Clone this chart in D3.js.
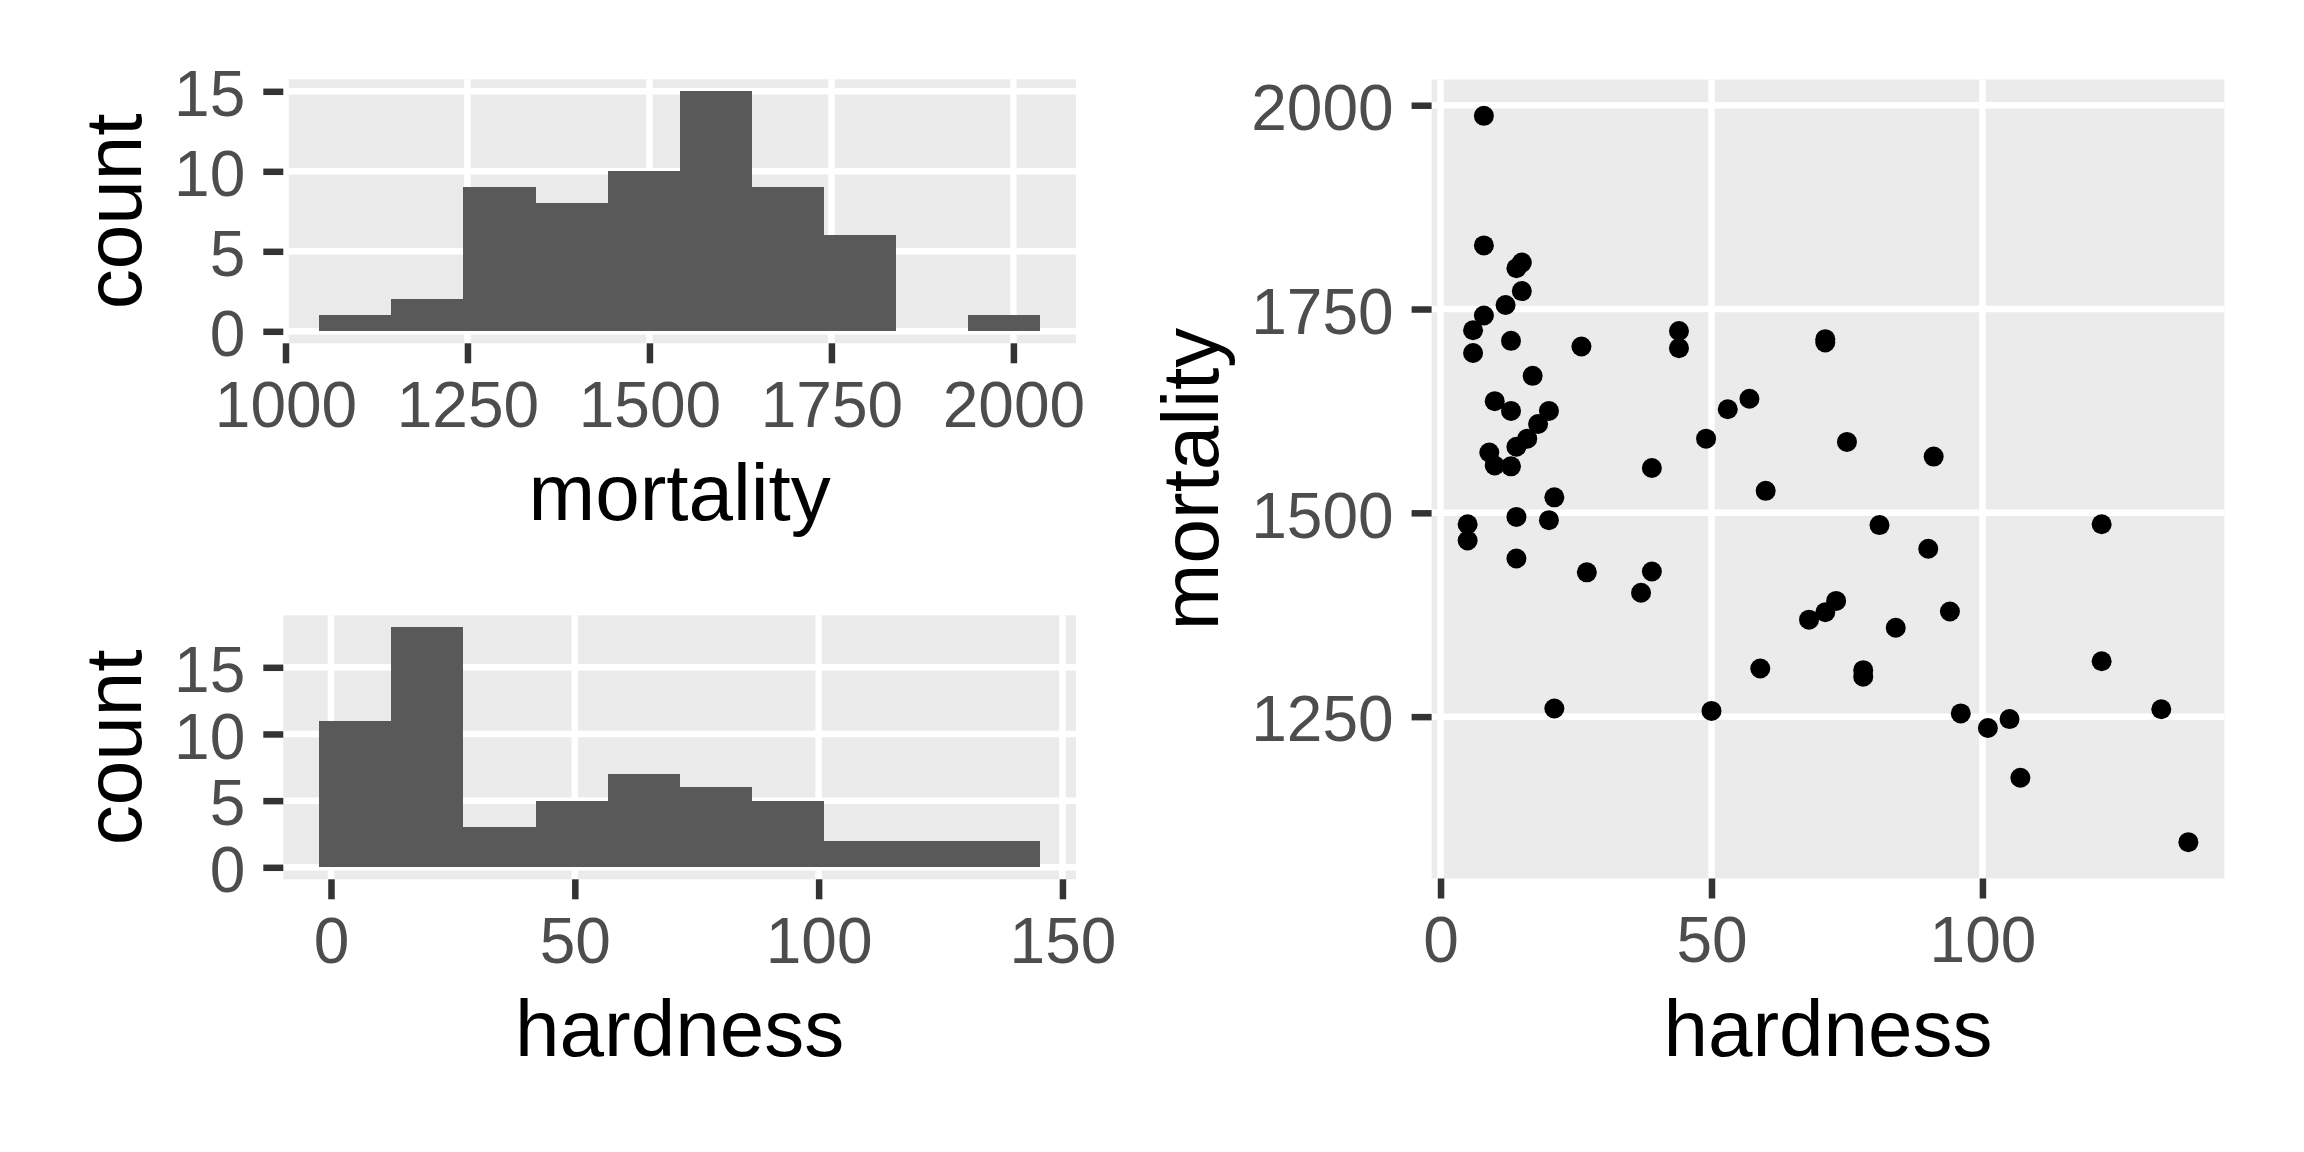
<!doctype html>
<html lang="en">
<head>
	<meta charset="UTF-8">
	<title>water: mortality and hardness</title>
	<style>
		body {
			margin: 0;
			background: #fff;
		}

		svg text {
			font-family: "Liberation Sans", Arial, sans-serif;
		}

		.tick text {
			fill: #4d4d4d;
			font-size: 64px;
		}

		.tick line {
			stroke: #333;
			stroke-width: 6.5px;
		}

		.axis__title {
			fill: #000;
			font-size: 80px;
			text-anchor: middle;
		}

		.bar {
			shape-rendering: crispEdges;
		}
	</style>
</head>
<body>
	<script src="https://cdn.jsdelivr.net/npm/d3@7"></script>
	<script>
		// water data: hardness and mortality for 61 towns
		var hardness = [105, 17, 5, 14, 18, 10, 15, 78, 10, 84, 73, 12, 21, 78, 96, 20, 39, 39, 122, 21,
			44, 94, 8, 9, 91, 138, 16, 37, 15, 8, 26, 44, 14, 59, 133, 27, 6, 107, 5, 90,
			6, 101, 13, 14, 49, 8, 14, 68, 50, 75, 71, 13, 57, 71, 13, 20, 60, 53, 122, 81, 71];
		var mortality = [1247, 1668, 1466, 1800, 1609, 1558, 1807, 1299, 1637, 1359, 1392, 1755, 1519, 1307, 1254, 1491, 1555, 1428, 1318, 1260,
			1723, 1379, 1742, 1574, 1569, 1096, 1591, 1402, 1772, 1828, 1704, 1702, 1581, 1309, 1259, 1427, 1724, 1175, 1486, 1456,
			1696, 1236, 1711, 1444, 1591, 1987, 1495, 1369, 1257, 1587, 1713, 1557, 1640, 1709, 1625, 1625, 1527, 1627, 1486, 1485, 1378];

		// histogram bins (10 bins each)
		var mortalityBreaks = [1046.5, 1145.5, 1244.5, 1343.5, 1442.5, 1541.5, 1640.5, 1739.5, 1838.5, 1937.5, 2036.5];
		var mortalityCounts = [1, 2, 9, 8, 10, 15, 9, 6, 0, 1];
		var hardnessBreaks = [-2.39, 12.39, 27.17, 41.94, 56.72, 71.5, 86.28, 101.06, 115.83, 130.61, 145.39];
		var hardnessCounts = [11, 18, 3, 5, 7, 6, 5, 2, 2, 2];

		// tick labels
		var mortalityHistTicks = [1000, 1250, 1500, 1750, 2000];
		var hardnessHistTicks = [0, 50, 100, 150];
		var countTicks = [0, 5, 10, 15];
		var scatterXTicks = [0, 50, 100];
		var scatterYTicks = [1250, 1500, 1750, 2000];

		var w = 2304,
			h = 1152,
			tickLen = 20,
			tickPad = 18,
			gridWidth = 6.5;

		var svg = d3.select('body')
			.append('svg')
			.attr('width', w)
			.attr('height', h);


		/**
		* expand a [min, max] extent by 5% on each side like ggplot does
		* @param {array} ext
		* @returns {array}
		*/
		var expand = function(ext) {
			var pad = (ext[1] - ext[0]) * 0.05;
			return [ext[0] - pad, ext[1] + pad];
		};


		/**
		* draw one panel: background, grid, axes and titles; returns scales
		* @param {object} opt
		* @returns {object}
		*/
		var drawPanel = function(opt) {
			var x = d3.scaleLinear().domain(opt.xDomain).range([opt.left, opt.right]),
				y = d3.scaleLinear().domain(opt.yDomain).range([opt.bottom, opt.top]),
				g = svg.append('g');

			g.append('rect')
				.attr('x', opt.left)
				.attr('y', opt.top)
				.attr('width', opt.right - opt.left)
				.attr('height', opt.bottom - opt.top)
				.attr('fill', '#ebebeb');

			g.selectAll('.gx')
				.data(opt.xTicks)
				.enter()
				.append('line')
				.attr('x1', function(d) { return x(d); })
				.attr('x2', function(d) { return x(d); })
				.attr('y1', opt.top)
				.attr('y2', opt.bottom)
				.attr('stroke', '#fff')
				.attr('stroke-width', gridWidth);

			g.selectAll('.gy')
				.data(opt.yTicks)
				.enter()
				.append('line')
				.attr('x1', opt.left)
				.attr('x2', opt.right)
				.attr('y1', function(d) { return y(d); })
				.attr('y2', function(d) { return y(d); })
				.attr('stroke', '#fff')
				.attr('stroke-width', gridWidth);

			var xAxis = g.append('g')
				.attr('transform', 'translate(0,' + opt.bottom + ')')
				.call(d3.axisBottom(x).tickValues(opt.xTicks).tickSize(tickLen).tickPadding(tickPad).tickFormat(d3.format('d')));
			xAxis.select('.domain').remove();

			var yAxis = g.append('g')
				.attr('transform', 'translate(' + opt.left + ',0)')
				.call(d3.axisLeft(y).tickValues(opt.yTicks).tickSize(tickLen).tickPadding(tickPad).tickFormat(d3.format('d')));
			yAxis.select('.domain').remove();
			yAxis.selectAll('text').attr('dy', '0.38em');

			g.append('text')
				.attr('class', 'axis__title')
				.attr('x', (opt.left + opt.right) / 2)
				.attr('y', opt.bottom + 177)
				.text(opt.xTitle);

			// y title sits 33px left of the widest tick label
			var labelsLeft = yAxis.node().getBBox().x + opt.left;
			g.append('text')
				.attr('class', 'axis__title')
				.attr('transform', 'translate(' + (labelsLeft - 33) + ',' + ((opt.top + opt.bottom) / 2) + ') rotate(-90)')
				.text(opt.yTitle);

			return {x: x, y: y, g: g};
		};


		/**
		* draw histogram bars on a panel
		* @returns {undefined}
		*/
		var drawBars = function(panel, breaks, counts) {
			panel.g.selectAll('.bar')
				.data(counts)
				.enter()
				.append('rect')
				.attr('class', 'bar')
				.attr('x', function(d, i) { return panel.x(breaks[i]); })
				.attr('width', function(d, i) { return panel.x(breaks[i + 1]) - panel.x(breaks[i]); })
				.attr('y', function(d) { return panel.y(d); })
				.attr('height', function(d) { return panel.y(0) - panel.y(d); })
				.attr('fill', '#595959');
		};


		var mortHist = drawPanel({
			left: 283.3, right: 1076, top: 79.3, bottom: 343.3,
			xDomain: expand(d3.extent(mortalityBreaks)),
			yDomain: expand([0, d3.max(mortalityCounts)]),
			xTicks: mortalityHistTicks, yTicks: countTicks,
			xTitle: 'mortality', yTitle: 'count'
		});
		drawBars(mortHist, mortalityBreaks, mortalityCounts);

		var hardHist = drawPanel({
			left: 283.3, right: 1076, top: 615.3, bottom: 879.3,
			xDomain: expand(d3.extent(hardnessBreaks)),
			yDomain: expand([0, d3.max(hardnessCounts)]),
			xTicks: hardnessHistTicks, yTicks: countTicks,
			xTitle: 'hardness', yTitle: 'count'
		});
		drawBars(hardHist, hardnessBreaks, hardnessCounts);

		var scatter = drawPanel({
			left: 1431.6, right: 2224.4, top: 79.5, bottom: 878.5,
			xDomain: expand(d3.extent(hardness)),
			yDomain: expand(d3.extent(mortality)),
			xTicks: scatterXTicks, yTicks: scatterYTicks,
			xTitle: 'hardness', yTitle: 'mortality'
		});

		scatter.g.selectAll('circle')
			.data(hardness)
			.enter()
			.append('circle')
			.attr('cx', function(d) { return scatter.x(d); })
			.attr('cy', function(d, i) { return scatter.y(mortality[i]); })
			.attr('r', 10)
			.attr('fill', '#000');
	</script>
</body>
</html>
